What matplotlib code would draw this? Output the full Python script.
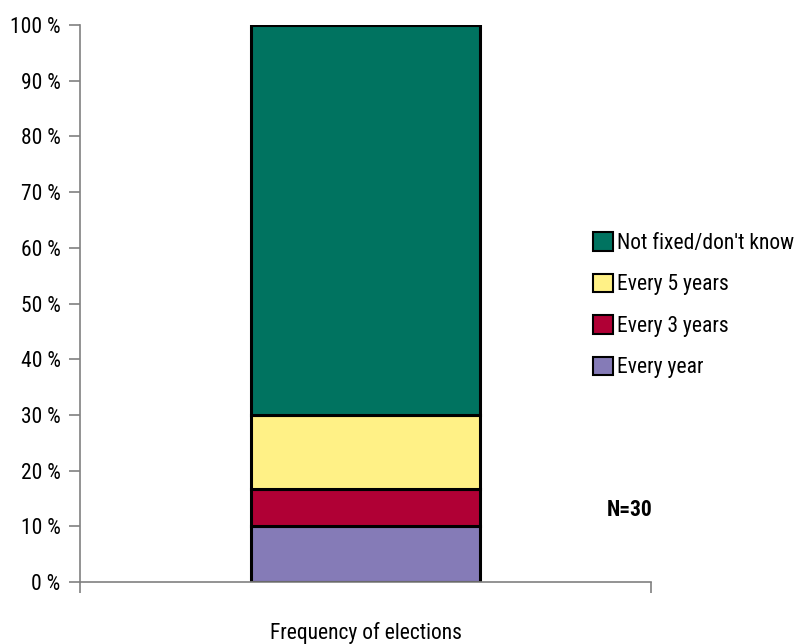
import matplotlib.pyplot as plt
from matplotlib.patches import Patch

# Data
categories = ["Every year", "Every 3 years", "Every 5 years", "Not fixed/don't know"]
counts = [3, 2, 4, 21]
n_total = 30
colors = ["#857BB7", "#B00035", "#FFF186", "#007360"]

shares = [c / n_total * 100 for c in counts]

plt.rcParams['font.family'] = ['Roboto Condensed', 'DejaVu Sans']

fig = plt.figure(figsize=(7.94, 6.44), dpi=100)
ax = fig.add_axes([0.1008, 0.0963, 0.7192, 0.8647])

# Stacked single bar
bottom = 0
for share, col in zip(shares, colors):
    ax.bar(0.5, share, width=0.4, bottom=bottom, color=col,
           edgecolor='black', linewidth=2.2)
    bottom += share

ax.set_xlim(0, 1)
ax.set_ylim(0, 100)
ax.set_yticks(range(0, 101, 10))
ax.set_yticklabels([f"{v} %" for v in range(0, 101, 10)], fontsize=15.5)
ax.set_xticks([0, 1])
ax.set_xticklabels(["", ""])
ax.tick_params(axis='y', direction='out', length=8, width=1.2, color='#808080', pad=6)
ax.tick_params(axis='x', direction='out', length=8, width=1.2, color='#808080')

for side in ['top', 'right']:
    ax.spines[side].set_visible(False)
for side in ['left', 'bottom']:
    ax.spines[side].set_color('#808080')
    ax.spines[side].set_linewidth(1.2)

ax.set_xlabel("Frequency of elections", fontsize=15.5, labelpad=17)

ax.text(0.963, 0.129, f"N={n_total}", transform=ax.transAxes,
        fontsize=15.5, fontweight='bold', ha='center', va='center')

# Legend in reverse stacking order
handles = [Patch(facecolor=c, edgecolor='black', linewidth=1.5)
           for c in reversed(colors)]
fig.legend(handles, list(reversed(categories)), loc='center left',
           bbox_to_anchor=(0.7224, 0.526), frameon=False, fontsize=15.5,
           handlelength=0.95, handleheight=0.95, handletextpad=0.15,
           labelspacing=0.92)

plt.savefig("out.png", dpi=100)
